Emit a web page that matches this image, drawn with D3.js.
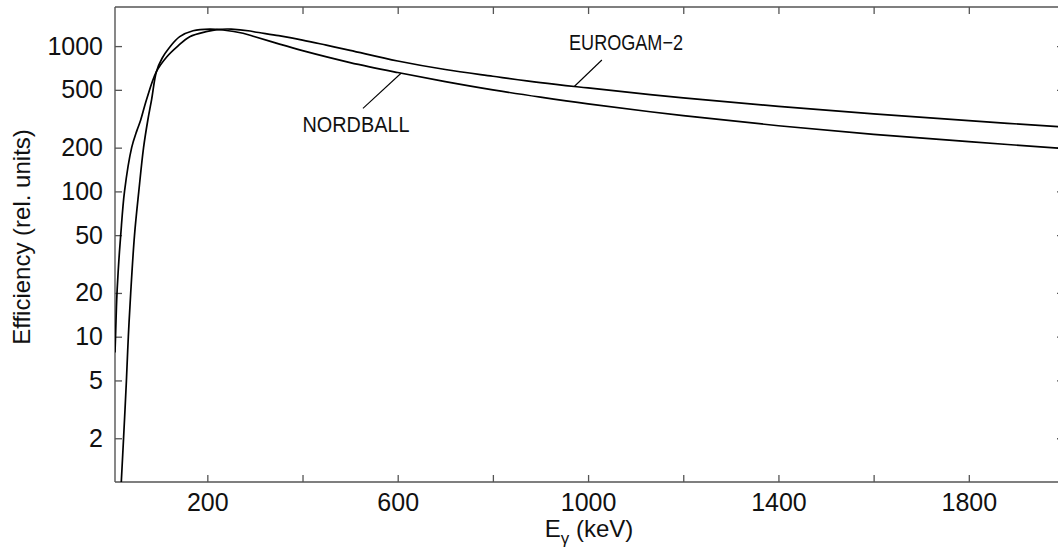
<!DOCTYPE html>
<html>
<head>
<meta charset="utf-8">
<script src="https://cdn.jsdelivr.net/npm/d3@7"></script>
<style>
  html, body { margin: 0; padding: 0; background: #fff; }
  svg { display: block; }
  text { font-family: "Liberation Sans", Arial, sans-serif; fill: #111; }
</style>
</head>
<body>
<svg id="chart" width="1058" height="548"></svg>
<script>
// ---- data ----
const eurogamE = [6, 7.5, 9, 10.5, 14, 18, 26, 41, 52, 60, 72, 93, 115, 138, 163, 200, 220, 250, 290, 300, 350, 400, 450, 500, 600, 700, 800, 900, 1000, 1200, 1400, 1600, 1800, 2000];
const eurogamV = [7.8, 11, 16, 21, 33, 50, 100, 200, 262, 310, 426, 667, 845, 1000, 1160, 1262, 1300, 1310, 1270, 1250, 1180, 1100, 1015, 935, 790, 690, 620, 560, 515, 440, 385, 342, 307, 277];

const nordballE = [19.2, 24, 30, 34, 39, 47, 56, 66, 75, 83, 93, 105, 120, 142, 170, 205, 233, 275, 300, 350, 400, 500, 600, 700, 800, 900, 1000, 1200, 1400, 1600, 1800, 2000];
const nordballV = [1, 2, 5, 10, 20, 50, 100, 200, 310, 430, 667, 825, 975, 1161, 1275, 1310, 1290, 1225, 1160, 1035, 930, 770, 658, 570, 500, 445, 400, 332, 283, 247, 220, 197];

const xTicks = [200, 400, 600, 800, 1000, 1200, 1400, 1600, 1800];
const xTickLabels = [200, 600, 1000, 1400, 1800];
const yTicks = [2, 5, 10, 20, 50, 100, 200, 500, 1000];

const xDomain = [6, 2000];
const yDomain = [1, 1858];

// annotations: [label, textE, textV, leaderFromE, leaderFromV, leaderToE, leaderToV, textLength]
const annotations = [
  ["EUROGAM\u22122", 960, 940, 1029, 802, 971, 527, 114],
  ["NORDBALL", 400, 258, 527, 373, 607, 650, 107]
];

// ---- drawing ----
const svg = d3.select("#chart");
const pL = 115, pR = 1064, pT = 7, pB = 482;

const x = d3.scaleLinear().domain(xDomain).range([pL, pR]);
const y = d3.scaleLog().domain(yDomain).range([pB, pT]);

svg.append("defs").append("clipPath").attr("id", "clip")
  .append("rect").attr("x", pL).attr("y", pT)
  .attr("width", pR - pL).attr("height", pB - pT);

const axisColor = "#555";

function styleAxis(g) {
  g.selectAll("path.domain").attr("stroke", axisColor).attr("stroke-width", 1.4);
  g.selectAll(".tick line").attr("stroke", axisColor).attr("stroke-width", 1.3);
  g.selectAll(".tick text").attr("fill", "#111")
    .style("font-family", '"Liberation Sans", Arial, sans-serif')
    .style("font-size", "25px");
}

const gBottom = svg.append("g").attr("transform", `translate(0,${pB})`)
  .call(d3.axisBottom(x).tickValues(xTicks).tickSizeInner(-7).tickSizeOuter(0).tickPadding(11)
    .tickFormat(d => xTickLabels.includes(d) ? String(d) : ""));
styleAxis(gBottom);

const gTop = svg.append("g").attr("transform", `translate(0,${pT})`)
  .call(d3.axisTop(x).tickValues(xTicks).tickSizeInner(-7).tickSizeOuter(0).tickFormat(() => ""));
styleAxis(gTop);

const gLeft = svg.append("g").attr("transform", `translate(${pL},0)`)
  .call(d3.axisLeft(y).tickValues(yTicks).tickSizeInner(-7).tickSizeOuter(0).tickPadding(12)
    .tickFormat(d3.format("d")));
styleAxis(gLeft);

const gRight = svg.append("g").attr("transform", `translate(${pR},0)`)
  .call(d3.axisRight(y).tickValues(yTicks).tickSizeInner(-7).tickSizeOuter(0).tickFormat(() => ""));
styleAxis(gRight);

gBottom.select("path.domain").attr("d", `M${pL},0H${pR}`);
gTop.select("path.domain").attr("d", `M${pL},0H${pR}`);
gLeft.select("path.domain").attr("d", `M0,${pT}V${pB}`);
gRight.select("path.domain").attr("d", `M0,${pT}V${pB}`);

const line = d3.line()
  .x(d => x(d[0])).y(d => y(d[1]))
  .curve(d3.curveCatmullRom.alpha(0.5));

const series = [
  d3.zip(eurogamE, eurogamV),
  d3.zip(nordballE, nordballV)
];

svg.append("g").attr("clip-path", "url(#clip)")
  .selectAll("path").data(series).join("path")
  .attr("d", line)
  .attr("fill", "none")
  .attr("stroke", "#000")
  .attr("stroke-width", 1.7)
  .attr("stroke-linejoin", "round");

// annotations
annotations.forEach(a => {
  svg.append("line")
    .attr("x1", x(a[3])).attr("y1", y(a[4]))
    .attr("x2", x(a[5])).attr("y2", y(a[6]))
    .attr("stroke", "#000").attr("stroke-width", 1.1);
  svg.append("text")
    .attr("x", x(a[1])).attr("y", y(a[2]))
    .attr("textLength", a[7])
    .attr("lengthAdjust", "spacingAndGlyphs")
    .style("font-size", "22px")
    .text(a[0]);
});

// axis titles
const xt = svg.append("text")
  .attr("x", 589).attr("y", 537)
  .attr("text-anchor", "middle")
  .style("font-size", "24px");
xt.append("tspan").text("E");
xt.append("tspan").attr("dy", 7).style("font-size", "17px").text("\u03b3");
xt.append("tspan").attr("dy", -7).text(" (keV)");

svg.append("text")
  .attr("transform", `translate(30,237) rotate(-90)`)
  .attr("text-anchor", "middle")
  .style("font-size", "24px")
  .text("Efficiency (rel. units)");
</script>
</body>
</html>
